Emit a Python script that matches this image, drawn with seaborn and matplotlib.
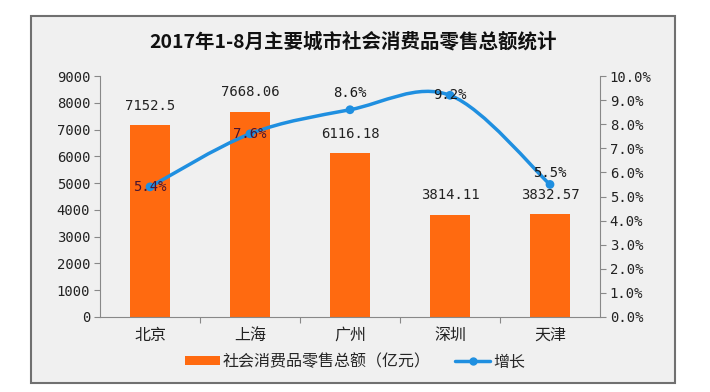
import numpy as np
import pandas as pd
import matplotlib
matplotlib.use("Agg")
import matplotlib.pyplot as plt
from matplotlib.patches import Rectangle, PathPatch, Patch
from matplotlib.path import Path
from matplotlib.lines import Line2D
import seaborn as sns

cities = ["北京", "上海", "广州", "深圳", "天津"]
sales = [7152.5, 7668.06, 6116.18, 3814.11, 3832.57]
sales_labels = ["7152.5", "7668.06", "6116.18", "3814.11", "3832.57"]
growth = [5.4, 7.6, 8.6, 9.2, 5.5]
left_ticks = [0, 1000, 2000, 3000, 4000, 5000, 6000, 7000, 8000, 9000]
right_ticks = [0, 1, 2, 3, 4, 5, 6, 7, 8, 9, 10]

BAR = "#ff6a10"
LINE = "#1f8fe0"
CJK = ["Noto Sans CJK SC", "DejaVu Sans"]
MONO = ["DejaVu Sans Mono", "Noto Sans CJK SC"]

sns.set_style("ticks")
plt.rcParams["font.family"] = CJK

fig = plt.figure(figsize=(7.1, 3.92), dpi=100)
fig.patch.set_facecolor("white")
# outer frame with light grey background
fig.patches.append(Rectangle((31 / 710, 1 - 383 / 392), (675 - 31) / 710, (383 - 16) / 392,
                             transform=fig.transFigure, facecolor="#f0f0f0",
                             edgecolor="#707070", linewidth=1.5, zorder=-10))

ax = fig.add_axes([100 / 710, 1 - 317 / 392, 500 / 710, (317 - 76) / 392])
ax.set_facecolor("none")

df = pd.DataFrame({"city": cities, "sales": sales})
sns.barplot(data=df, x="city", y="sales", color=BAR, width=0.4, saturation=1,
            linewidth=0, edgecolor="none", ax=ax, zorder=2)

ax.set_ylim(0, 9000)
ax.set_xlim(-0.5, 4.5)
ax.set_yticks(left_ticks)
ax.set_yticklabels([str(t) for t in left_ticks], family=MONO, fontsize=10, color="#222222")
ax.set_xlabel("")
ax.set_ylabel("")
ax.set_xticks([0.5, 1.5, 2.5, 3.5], minor=False)
ax.set_xticklabels([])
ax.tick_params(axis="x", length=4, color="#888888", direction="out")
ax.tick_params(axis="y", length=4, color="#888888", direction="out", pad=3)
for i, c in enumerate(cities):
    ax.text(i, -0.04, c, transform=ax.get_xaxis_transform(), ha="center", va="top",
            fontsize=11.5, color="#222222")
for s in ["top", "right"]:
    ax.spines[s].set_visible(False)
for s in ["left", "bottom"]:
    ax.spines[s].set_color("#888888")

for i, (v, lab) in enumerate(zip(sales, sales_labels)):
    ax.annotate(lab, (i, v), xytext=(0, 9), textcoords="offset points", ha="center",
                va="bottom", family=MONO, fontsize=10, color="#222222", zorder=5)

ax2 = ax.twinx()
ax2.set_ylim(0, 10)
ax2.set_yticks(right_ticks)
ax2.set_yticklabels(["%.1f%%" % t for t in right_ticks], family=MONO, fontsize=10, color="#222222")
ax2.tick_params(axis="y", length=4, color="#888888", direction="out", pad=3)
for s in ["top", "left", "bottom"]:
    ax2.spines[s].set_visible(False)
ax2.spines["right"].set_color("#888888")

# smooth line through the growth points (Catmull-Rom as bezier)
pts = np.column_stack([np.arange(len(growth)), growth]).astype(float)
ext = np.vstack([pts[0], pts, pts[-1]])
verts = [tuple(pts[0])]
codes = [Path.MOVETO]
for k in range(len(pts) - 1):
    p0, p1, p2, p3 = ext[k], ext[k + 1], ext[k + 2], ext[k + 3]
    c1 = p1 + (p2 - p0) / 6
    c2 = p2 - (p3 - p1) / 6
    verts += [tuple(c1), tuple(c2), tuple(p2)]
    codes += [Path.CURVE4] * 3
ax2.add_patch(PathPatch(Path(verts, codes), facecolor="none", edgecolor=LINE, lw=2.5, zorder=3))
sns.scatterplot(x=list(range(len(growth))), y=growth, color=LINE, s=40, edgecolor="none",
                ax=ax2, zorder=4, legend=False)

offsets = [0, 0, 12, 0, 8]
label_colors = ["#4a1430", "#4a1430", "#1a1a1a", "#1a1a1a", "#1a1a1a"]
for i, (g, off, col) in enumerate(zip(growth, offsets, label_colors)):
    ax2.annotate("%.1f%%" % g, (i, g), xytext=(0, off), textcoords="offset points",
                 ha="center", va="center", family=MONO, fontsize=10, color=col, zorder=6)

fig.text(353 / 710, 1 - 42 / 392, "2017年1-8月主要城市社会消费品零售总额统计",
         ha="center", va="center", fontsize=14, fontweight="bold", color="#111111")

handles = [Patch(facecolor=BAR, edgecolor="none"),
           Line2D([0], [0], color=LINE, lw=2.5, marker="o", markersize=5)]
fig.legend(handles, ["社会消费品零售总额（亿元）", "增长"], loc="center",
           bbox_to_anchor=(355 / 710, 1 - 362 / 392), ncol=2, frameon=False,
           fontsize=11.5, handlelength=2.2, handleheight=0.5, columnspacing=1.5,
           handletextpad=0.2)

fig.savefig("out.png", dpi=100, facecolor="white")
